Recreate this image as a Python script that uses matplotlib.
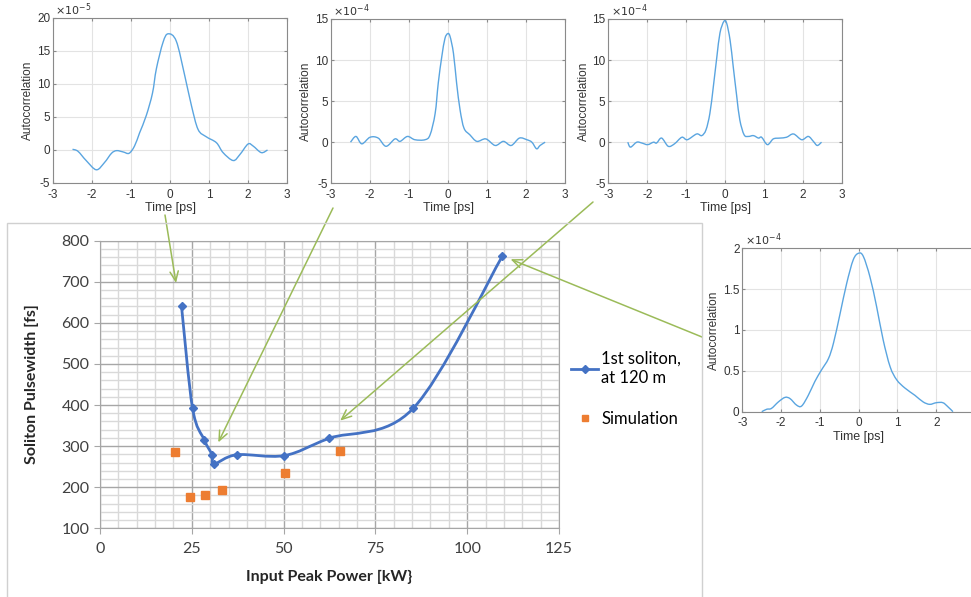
import numpy as np
import matplotlib
matplotlib.use('Agg')
import matplotlib.pyplot as plt
from matplotlib.path import Path
from matplotlib.patches import PathPatch, Rectangle
from matplotlib.ticker import MultipleLocator
from matplotlib.lines import Line2D

plt.rcParams['axes.unicode_minus'] = False

# main chart data
power = [22.2, 25.2, 28.4, 30.5, 31.1, 37.2, 50.2, 62.4, 85.3, 109.6]
width = [640, 392, 315, 279, 257, 279, 277, 319, 392, 763]
sim_power = [20.4, 24.6, 28.6, 33.2, 50.5, 65.3]
sim_width = [285, 177, 181, 193, 235, 287]

# autocorrelation traces (inset 1 in 1e-5, insets 2,3 in 1e-4, inset 4 in 1e-4)
t1 = [-2.5, -2.36, -2.15, -1.89, -1.68, -1.5, -1.37, -1.2, -1.05, -0.91, -0.78, -0.61,
      -0.45, -0.35, -0.18, -0.05, 0.16, 0.38, 0.55, 0.72, 0.93, 1.19, 1.36, 1.62, 1.79,
      2.0, 2.13, 2.34, 2.5]
a1 = [0.1, -0.2, -1.6, -3.0, -1.9, -0.5, -0.1, -0.3, -0.5, 0.6, 2.6, 5.2,
      8.6, 12.3, 16.3, 17.6, 16.5, 11.2, 6.7, 3.1, 2.0, 1.1, -0.4, -1.6, -0.7,
      0.9, 0.6, -0.4, 0.0]
t2 = [-2.5, -2.36, -2.21, -2.0, -1.79, -1.59, -1.36, -1.23, -1.04, -0.85, -0.59, -0.46,
      -0.33, -0.25, -0.16, -0.08, -0.01, 0.05, 0.14, 0.22, 0.31, 0.41, 0.56, 0.74, 0.97,
      1.21, 1.42, 1.62, 1.83, 2.02, 2.15, 2.27, 2.36, 2.49]
a2 = [0.0, 0.7, -0.2, 0.6, 0.5, -0.5, 0.4, 0.1, 0.7, 0.3, 0.3, 0.9,
      3.5, 7.2, 10.4, 12.6, 13.2, 12.9, 10.8, 7.2, 3.9, 1.7, 0.9, 0.1, 0.4,
      -0.4, 0.1, -0.4, 0.5, 0.3, 0.0, -0.8, -0.4, 0.0]
t3 = [-2.5, -2.43, -2.27, -2.14, -1.99, -1.84, -1.76, -1.63, -1.46, -1.3, -1.11, -0.97,
      -0.73, -0.6, -0.49, -0.39, -0.3, -0.21, -0.13, -0.03, 0.04, 0.13, 0.21, 0.3, 0.38,
      0.49, 0.6, 0.73, 0.86, 0.94, 1.09, 1.24, 1.41, 1.58, 1.76, 1.97, 2.14, 2.27, 2.37, 2.48]
a3 = [0.0, -0.6, 0.0, -0.1, -0.3, 0.0, -0.1, 0.5, -0.5, -0.2, 0.6, 0.3,
      1.0, 0.8, 1.5, 3.5, 6.8, 10.4, 13.3, 14.7, 14.5, 12.4, 9.2, 5.6, 2.7,
      0.9, 0.7, 0.8, 0.5, 0.6, -0.3, 0.4, 0.5, 0.6, 1.0, 0.3, 0.7, 0.1, -0.4, 0.0]
t4 = [-2.5, -2.37, -2.25, -2.07, -1.9, -1.77, -1.6, -1.47, -1.3, -1.13, -0.96, -0.78,
      -0.65, -0.48, -0.31, -0.14, 0.0, 0.12, 0.29, 0.46, 0.63, 0.81, 0.98, 1.19, 1.45,
      1.66, 1.83, 2.0, 2.17, 2.3, 2.43]
a4 = [0.0, 0.03, 0.04, 0.12, 0.175, 0.16, 0.08, 0.07, 0.2, 0.37, 0.51, 0.65,
      0.84, 1.2, 1.57, 1.86, 1.94, 1.9, 1.65, 1.29, 0.88, 0.55, 0.39, 0.29, 0.2,
      0.12, 0.09, 0.11, 0.11, 0.06, 0.0]


def smooth_path(x, y):
    # Catmull-Rom through the points, drawn as cubic Bezier segments
    p = np.column_stack([x, y]).astype(float)
    verts = [p[0]]
    codes = [Path.MOVETO]
    n = len(p)
    for i in range(n - 1):
        p0 = p[i - 1] if i > 0 else p[i]
        p3 = p[i + 2] if i + 2 < n else p[i + 1]
        verts += [p[i] + (p[i + 1] - p0) / 6, p[i + 1] - (p3 - p[i]) / 6, p[i + 1]]
        codes += [Path.CURVE4] * 3
    return Path(verts, codes)


fig = plt.figure(figsize=(9.71, 5.97), dpi=100)

# chart frame
fig.add_artist(Rectangle((0.0072, -0.02), 0.7158, 0.6465, transform=fig.transFigure,
                         fill=False, edgecolor='#d0d0d0', lw=1))

ax = fig.add_axes([0.103, 0.1151, 0.4727, 0.4817])
ax.set_xlim(0, 125)
ax.set_ylim(100, 800)
ax.xaxis.set_major_locator(MultipleLocator(25))
ax.xaxis.set_minor_locator(MultipleLocator(5))
ax.yaxis.set_major_locator(MultipleLocator(100))
ax.yaxis.set_minor_locator(MultipleLocator(20))
ax.grid(which='minor', color='#d9d9d9', lw=1)
ax.grid(which='major', color='#a6a6a6', lw=1)
ax.set_axisbelow(True)
for s in ax.spines.values():
    s.set_color('#a6a6a6')
ax.tick_params(which='major', length=4, color='#a6a6a6', labelsize=11.5,
               labelcolor='#404040')
ax.tick_params(axis='x', pad=6)
ax.tick_params(which='minor', length=0)
for lab in ax.get_xticklabels() + ax.get_yticklabels():
    lab.set_family('Lato')

ax.add_patch(PathPatch(smooth_path(power, width), fill=False, edgecolor='#4472C4', lw=2))
ax.plot(power, width, ls='none', marker='D', ms=4.5, color='#4472C4')
ax.plot(sim_power, sim_width, ls='none', marker='s', ms=6, color='#ED7D31')

ax.set_xlabel('Input Peak Power [kW}', family='Lato', fontweight='bold', fontsize=11.5,
              color='#262626', labelpad=10)
ax.set_ylabel('Soliton Pulsewidth [fs]', family='Lato', fontweight='bold', fontsize=11.5,
              color='#262626', labelpad=16)

handles = [Line2D([], [], color='#4472C4', lw=2, marker='D', ms=4),
           Line2D([], [], ls='none', color='#ED7D31', marker='s', ms=5)]
fig.legend(handles, ['1st soliton,\nat 120 m', 'Simulation'], loc='upper left',
           bbox_to_anchor=(0.573, 0.437), frameon=False, handlelength=1.6,
           handletextpad=0.2, labelspacing=1.5,
           prop={'family': 'Lato', 'size': 12})

# autocorrelation insets
insets = [
    ([0.0546, 0.6935, 0.241, 0.2764], t1, a1, (-5, 20), [-5, 0, 5, 10, 15, 20], None, r'$\times10^{-5}$'),
    ([0.3409, 0.6930, 0.241, 0.2753], t2, a2, (-5, 15), [-5, 0, 5, 10, 15], None, r'$\times10^{-4}$'),
    ([0.6265, 0.6930, 0.2404, 0.2753], t3, a3, (-5, 15), [-5, 0, 5, 10, 15], None, r'$\times10^{-4}$'),
    ([0.7645, 0.3104, 0.2397, 0.2737], t4, a4, (0, 2), [0, 0.5, 1, 1.5, 2],
     ['0', '0.5', '1', '1.5', '2'], r'$\times10^{-4}$'),
]
for k, (pos, t, a, ylim, yt, ytl, expo) in enumerate(insets):
    ia = fig.add_axes(pos)
    ia.add_patch(PathPatch(smooth_path(t, a), fill=False, edgecolor='#5aa5e0', lw=1))
    ia.set_xlim(-3, 3)
    ia.set_ylim(*ylim)
    ia.set_xticks([-3, -2, -1, 0, 1, 2, 3])
    if k == 3:
        # the right end of this panel is cut off by the picture edge
        ia.set_xticklabels(['-3', '-2', '-1', '0', '1', '2', ''])
    ia.set_yticks(yt)
    if ytl:
        ia.set_yticklabels(ytl)
    ia.grid(color='#e3e3e3', lw=0.8)
    ia.set_axisbelow(True)
    for s in ia.spines.values():
        s.set_color('#8a8a8a')
        s.set_linewidth(0.8)
    ia.tick_params(direction='in', length=2, top=True, right=True, color='#8a8a8a',
                   labelsize=8.5, labelcolor='#333333', pad=2)
    ia.tick_params(axis='x', pad=4)
    for lab in ia.get_xticklabels() + ia.get_yticklabels():
        lab.set_family('Liberation Sans')
    ia.set_xlabel('Time [ps]', family='Liberation Sans', fontsize=9, color='#333333', labelpad=1)
    ia.set_ylabel('Autocorrelation', family='Liberation Sans', fontsize=8.5, color='#333333',
                  labelpad=2)
    ia.text(0.01, 1.0, expo, transform=ia.transAxes, fontsize=8, color='#333333',
            va='bottom', ha='left')

# arrows from the insets to the matching points
arrow_tips = [(20.7, 697), (32.2, 309), (65.4, 362), (111.8, 755)]
arrow_starts = [(165, 382), (333, 389), (593, 395), (702, 260)]  # figure pixels
for tip, start in zip(arrow_tips, arrow_starts):
    ax.annotate('', xy=tip, xycoords='data', xytext=start, textcoords='figure pixels',
                arrowprops=dict(arrowstyle='->,head_length=0.7,head_width=0.3',
                                color='#9BBB59', lw=1.1, shrinkA=0, shrinkB=0),
                annotation_clip=False)

fig.savefig('out.png', dpi=100)
